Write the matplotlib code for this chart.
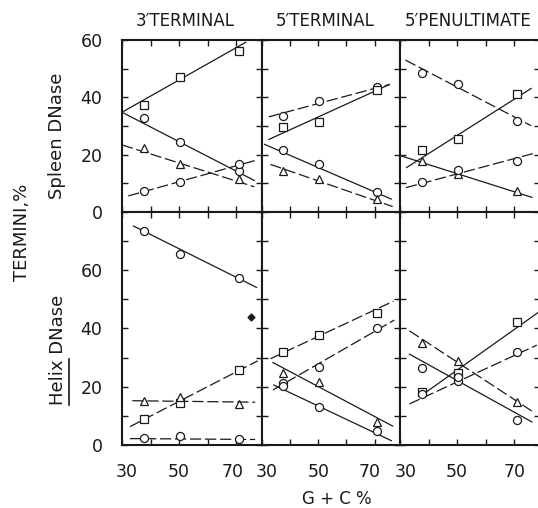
import matplotlib
matplotlib.use("Agg")
import matplotlib.pyplot as plt
from matplotlib.lines import Line2D
from matplotlib.transforms import ScaledTranslation

# ---------------- data ----------------
gc = [37.6, 50.3, 70.9]          # G+C % of the three DNAs
col_titles = ["3\u2032TERMINAL", "5\u2032TERMINAL", "5\u2032PENULTIMATE"]
row_labels = ["Spleen DNase", "Helix DNase"]
x_ticks = [30, 40, 50, 60, 70]
x_ticklabels = ["30", "", "50", "", "70"]
y_ticks_top = [0, 10, 20, 30, 40, 50, 60]
y_ticklabels_top = ["0", "", "20", "", "40", "", "60"]
y_ticks_bot = [0, 10, 20, 30, 40, 50, 60, 70, 80]
y_ticklabels_bot = ["0", "", "20", "", "40", "", "60", "", ""]

# Spleen DNase, 3' terminal
sp3_sq = [37.3, 47.2, 56.2];   sp3_sq_fit = ([30, 73.3], [34.8, 59.2])
sp3_cd = [32.9, 24.5, 14.3];   sp3_cd_fit = ([30, 76.3], [34.8, 11.0])
sp3_tr = [22.2, 16.7, 11.4];   sp3_tr_fit = ([30, 76.3], [23.4, 8.8])
sp3_ci = [7.4, 10.6, 16.6];    sp3_ci_fit = ([32.2, 77.1], [5.6, 18.1])
# Spleen DNase, 5' terminal
sp5_ct = [33.6, 38.7, 43.7];   sp5_ct_fit = ([32.4, 75.3], [33.2, 44.5])
sp5_sq = [29.6, 31.5, 42.6];   sp5_sq_fit = ([32.4, 75.3], [25.3, 44.5])
sp5_cd = [21.6, 16.6, 6.9];    sp5_cd_fit = ([30.9, 75.9], [23.6, 4.5])
sp5_tr = [14.4, 11.5, 4.5];    sp5_tr_fit = ([33.0, 76.4], [16.6, 1.9])
# Spleen DNase, 5' penultimate
spp_cd = [48.6, 44.5, 31.7];   spp_cd_fit = ([31.9, 75.9], [53.0, 30.1])
spp_sq = [21.6, 25.5, 41.2];   spp_sq_fit = ([32.3, 75.9], [15.5, 43.1])
spp_tr = [17.8, 13.2, 7.3];    spp_tr_fit = ([30.3, 76.2], [19.6, 5.1])
spp_ci = [10.4, 14.5, 17.8];   spp_ci_fit = ([32.1, 77.0], [8.5, 20.5])
# Helix DNase, 3' terminal
hx3_ct = [73.6, 65.5, 57.5];   hx3_ct_fit = ([34.0, 77.1], [75.2, 54.1])
hx3_sq = [8.8, 14.5, 25.7];    hx3_sq_fit = ([32.8, 77.5], [6.3, 28.9])
hx3_tr = [15.1, 16.6, 14.1];   hx3_tr_fit = ([33.6, 76.6], [15.2, 14.7])
hx3_cb = [2.3, 3.1, 1.9];      hx3_cb_fit = ([32.8, 76.6], [2.2, 1.9])
hx3_spot = ([75.2], [44.0])
# Helix DNase, 5' terminal
hx5_sq = [31.8, 37.7, 45.2];   hx5_sq_fit = ([33.0, 76.7], [29.6, 49.4])
hx5_ci = [21.4, 26.9, 40.3];   hx5_ci_fit = ([33.9, 77.0], [18.9, 42.9])
hx5_tr = [24.6, 21.6, 8.0];    hx5_tr_fit = ([33.9, 76.4], [28.3, 6.5])
hx5_cd = [20.3, 12.9, 4.9];    hx5_cd_fit = ([34.2, 75.9], [20.6, 1.5])
# Helix DNase, 5' penultimate
hxp_tr = [35.1, 28.9, 14.8];   hxp_tr_fit = ([33.3, 76.4], [39.2, 11.5])
hxp_cd = [26.4, 22.1, 8.6];    hxp_cd_fit = ([33.3, 76.2], [31.2, 7.9])
hxp_sq = [18.3, 24.6, 42.1];   hxp_sq_fit = ([37.5, 78.2], [17.0, 45.4])
hxp_ci = [17.5, 23.5, 32.0];   hxp_ci_fit = ([33.3, 77.9], [14.1, 34.3])

SOLID = "-"
DASH = (0, (9, 3))
panels = [
    [  # Spleen row
        [("s", sp3_sq, sp3_sq_fit, SOLID), ("o", sp3_cd, sp3_cd_fit, SOLID),
         ("^", sp3_tr, sp3_tr_fit, DASH), ("o", sp3_ci, sp3_ci_fit, DASH)],
        [("o", sp5_ct, sp5_ct_fit, DASH), ("s", sp5_sq, sp5_sq_fit, SOLID),
         ("o", sp5_cd, sp5_cd_fit, SOLID), ("^", sp5_tr, sp5_tr_fit, DASH)],
        [("o", spp_cd, spp_cd_fit, DASH), ("s", spp_sq, spp_sq_fit, SOLID),
         ("^", spp_tr, spp_tr_fit, SOLID), ("o", spp_ci, spp_ci_fit, DASH)],
    ],
    [  # Helix row
        [("o", hx3_ct, hx3_ct_fit, SOLID), ("s", hx3_sq, hx3_sq_fit, DASH),
         ("^", hx3_tr, hx3_tr_fit, DASH), ("o", hx3_cb, hx3_cb_fit, DASH)],
        [("s", hx5_sq, hx5_sq_fit, DASH), ("o", hx5_ci, hx5_ci_fit, DASH),
         ("^", hx5_tr, hx5_tr_fit, SOLID), ("o", hx5_cd, hx5_cd_fit, SOLID)],
        [("^", hxp_tr, hxp_tr_fit, DASH), ("o", hxp_cd, hxp_cd_fit, SOLID),
         ("s", hxp_sq, hxp_sq_fit, SOLID), ("o", hxp_ci, hxp_ci_fit, DASH)],
    ],
]

# ---------------- figure ----------------
W, H = 538, 508
INK = "#1a1a1a"
plt.rcParams["font.family"] = ["DejaVu Sans"]
fig = plt.figure(figsize=(W / 100, H / 100), dpi=100)
fig.patch.set_facecolor("white")

cols = [(122, 262), (262, 400), (400, 540)]
rows = [(40, 212), (212, 445)]
ylims = [(0, 60), (0, 80)]
title_x = [185, 325, 468]
label_shift_30 = [5, 5, 6]
label_shift_70 = [-4, -5, 0]

def ax_at(x0, y0, x1, y1):
    return fig.add_axes([x0 / W, 1 - y1 / H, (x1 - x0) / W, (y1 - y0) / H])

axes = []
for r, (y0, y1) in enumerate(rows):
    for c, (x0, x1) in enumerate(cols):
        ax = ax_at(x0, y0, x1, y1)
        axes.append(ax)
        ax.set_xlim(30, 79)
        ax.set_ylim(*ylims[r])
        for sp in ax.spines.values():
            sp.set_linewidth(1.5)
            sp.set_color(INK)
        ax.tick_params(direction="in", top=True, right=True, length=4,
                       width=1.0, colors=INK, labelsize=12.5)
        ax.tick_params(axis="y", pad=14)
        ax.tick_params(axis="x", pad=13)
        ax.set_xticks(x_ticks)
        if r == 0:
            ax.set_yticks(y_ticks_top)
            ax.set_yticklabels(y_ticklabels_top if c == 0 else [""] * len(y_ticks_top))
            ax.set_xticklabels([""] * len(x_ticks))
        else:
            ax.set_yticks(y_ticks_bot)
            ax.set_yticklabels(y_ticklabels_bot if c == 0 else [""] * len(y_ticks_bot))
            ax.set_xticklabels(x_ticklabels)
            labs = ax.get_xticklabels()
            labs[0].set_transform(labs[0].get_transform() +
                                  ScaledTranslation(label_shift_30[c] / 100, 0, fig.dpi_scale_trans))
            labs[4].set_transform(labs[4].get_transform() +
                                  ScaledTranslation(label_shift_70[c] / 100, 0, fig.dpi_scale_trans))
        for lab in ax.get_xticklabels() + ax.get_yticklabels():
            lab.set_color(INK)
        for marker, yvals, (fx, fy), ls in panels[r][c]:
            ax.plot(fx, fy, color=INK, lw=0.9, ls=ls, zorder=2, clip_on=False)
            ms = 5.8 if marker == "o" else 5.2
            ax.plot(gc, yvals, ls="none", marker=marker, ms=ms, mfc="white",
                    mec=INK, mew=0.9, zorder=3, clip_on=False)

for c in range(3):
    fig.text(title_x[c] / W, 1 - 20.5 / H, col_titles[c], ha="center", va="center",
             fontsize=12, color=INK)

axes[3].plot(*hx3_spot, ls="none", marker="D", ms=3.5, color=INK, zorder=3)

# axis labels
fig.text(22 / W, 1 - 232 / H, "TERMINI,%", rotation=90, ha="center", va="center",
         fontsize=13, color=INK)
fig.text(57 / W, 1 - 135.5 / H, row_labels[0], rotation=90, ha="center", va="center",
         fontsize=13, color=INK)
helix = fig.text(58 / W, 1 - 350 / H, row_labels[1], rotation=90, ha="center",
                 va="center", fontsize=13, color=INK)
fig.text(337 / W, 1 - 499 / H, "G + C %", ha="center", va="center",
         fontsize=12, color=INK)

# underline the word "Helix"
fig.canvas.draw()
rend = fig.canvas.get_renderer()
bb = helix.get_window_extent(rend)
probe = fig.text(0, 0, "Helix ", fontsize=13, rotation=90)
pb = probe.get_window_extent(rend)
probe.remove()
ux = (bb.x1 + 2) / W
fig.add_artist(Line2D([ux, ux], [bb.y0 / H, (bb.y0 + pb.height - 5) / H],
                      color=INK, lw=1.2))

fig.savefig("out.png", dpi=100, facecolor="white")
